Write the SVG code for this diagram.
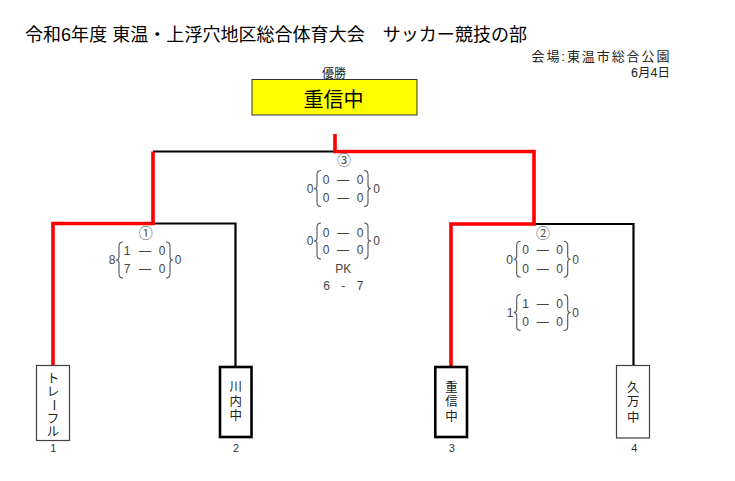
<svg xmlns="http://www.w3.org/2000/svg" xmlns:xlink="http://www.w3.org/1999/xlink" width="735" height="481" viewBox="0 0 735 481">
<style>
text{font-family:"Liberation Sans","Noto Sans CJK JP",sans-serif;}
.title{font-size:18px;fill:#000;}
.small{font-size:13px;fill:#222;}
.sc{font-size:12px;fill:#444;text-anchor:middle;}
.circ{font-family:"Noto Sans CJK JP",sans-serif;font-size:14px;fill:#555;text-anchor:middle;}
.tm{font-size:12.5px;fill:#222;text-anchor:middle;}
.num{font-size:11px;fill:#333;text-anchor:middle;}
.blk{fill:none;stroke:#000;stroke-width:2.2;}
.red{fill:none;stroke:#ff0000;stroke-width:3.6;}
.thin{fill:#fff;stroke:#404040;stroke-width:1.2;}
.thick{fill:#fff;stroke:#000;stroke-width:2.6;}
.brace{fill:none;stroke:#555;stroke-width:1.1;}
</style>
<defs>
<path id="lb" class="brace" d="M3,-18 Q-1,-18 -1,-14 L-1,-3 Q-1,0 -4,0 Q-1,0 -1,3 L-1,14 Q-1,18 3,18"/>
<path id="rb" class="brace" d="M-3,-18 Q1,-18 1,-14 L1,-3 Q1,0 4,0 Q1,0 1,3 L1,14 Q1,18 -3,18"/>
</defs>
<rect width="735" height="481" fill="#fff"/>

<g id="header">
<text class="title" x="25" y="41" textLength="502" lengthAdjust="spacing">令和6年度 東温・上浮穴地区総合体育大会　サッカー競技の部</text>
<text class="small" x="531.5" y="61" textLength="138" lengthAdjust="spacing">会場:東温市総合公園</text>
<text class="small" x="670" y="77" text-anchor="end" style="font-size:12.5px">6月4日</text>
</g>

<g id="connectors">
<path class="blk" d="M153,151.5 H335"/>
<path class="blk" d="M153,223.5 H235.5 V366"/>
<path class="blk" d="M534,224 H633.5 V365"/>
<path class="red" d="M335,134 V151.5 H534 V224 H451 V366"/>
<path class="red" d="M153,151.5 V223.5 H53 V365"/>
</g>

<g id="winner">
<text class="small" x="334" y="78" text-anchor="middle" style="font-size:12px">優勝</text>
<rect x="252" y="79.5" width="165" height="35.5" fill="#ffff00" stroke="#333" stroke-width="1"/>
<text x="333.5" y="106.5" text-anchor="middle" style="font-size:20px;fill:#000">重信中</text>
</g>

<g id="team1">
<rect class="thin" x="36.5" y="365.5" width="33" height="75"/>
<text class="tm" x="53" y="383">ト</text>
<text class="tm" x="53" y="396">レ</text>
<text class="tm" transform="rotate(90 53 405)" x="53" y="409.5">ー</text>
<text class="tm" x="53" y="422.5">フ</text>
<text class="tm" x="53" y="436">ル</text>
<text class="num" x="53.3" y="452">1</text>
</g>

<g id="team2">
<rect class="thick" x="220" y="367" width="31.5" height="70"/>
<text class="tm" x="235.7" y="391">川</text>
<text class="tm" x="235.7" y="406">内</text>
<text class="tm" x="235.7" y="420">中</text>
<text class="num" x="236" y="452">2</text>
</g>

<g id="team3">
<rect class="thick" x="435.3" y="367" width="31.7" height="70"/>
<text class="tm" x="451.5" y="392">重</text>
<text class="tm" x="451.5" y="406">信</text>
<text class="tm" x="451.5" y="420.5">中</text>
<text class="num" x="451.7" y="452">3</text>
</g>

<g id="team4">
<rect class="thin" x="616.5" y="365.5" width="33" height="72.5"/>
<text class="tm" x="633.3" y="391.5">久</text>
<text class="tm" x="633.3" y="406">万</text>
<text class="tm" x="633.3" y="421.5">中</text>
<text class="num" x="634.3" y="452">4</text>
</g>

<g id="match1">
<text class="circ" x="145.7" y="238">①</text>
<use xlink:href="#lb" x="120" y="260"/>
<use xlink:href="#rb" x="169" y="260"/>
<text class="sc" x="112" y="264.3">8</text>
<text class="sc" x="127" y="255">1</text><text class="sc" x="145" y="255">—</text><text class="sc" x="162" y="255">0</text>
<text class="sc" x="127" y="273.3">7</text><text class="sc" x="145" y="273.3">—</text><text class="sc" x="162" y="273.3">0</text>
<text class="sc" x="178" y="264.3">0</text>
</g>

<g id="match2">
<text class="circ" x="543" y="238">②</text>
<use xlink:href="#lb" x="517.7" y="259.3"/>
<use xlink:href="#rb" x="566.7" y="259.3"/>
<text class="sc" x="509.7" y="263.6">0</text>
<text class="sc" x="525.7" y="254.3">0</text><text class="sc" x="542.7" y="254.3">—</text><text class="sc" x="559.7" y="254.3">0</text>
<text class="sc" x="525.7" y="272.6">0</text><text class="sc" x="542.7" y="272.6">—</text><text class="sc" x="559.7" y="272.6">0</text>
<text class="sc" x="575.7" y="263.6">0</text>
<use xlink:href="#lb" x="517.7" y="312.5"/>
<use xlink:href="#rb" x="566.7" y="312.5"/>
<text class="sc" x="510" y="316.8">1</text>
<text class="sc" x="525.7" y="307.6">1</text><text class="sc" x="542.7" y="307.6">—</text><text class="sc" x="559.7" y="307.6">0</text>
<text class="sc" x="525.7" y="326">0</text><text class="sc" x="542.7" y="326">—</text><text class="sc" x="559.7" y="326">0</text>
<text class="sc" x="575.7" y="316.8">0</text>
</g>

<g id="match3">
<text class="circ" x="344" y="165">③</text>
<use xlink:href="#lb" x="318" y="188.5"/>
<use xlink:href="#rb" x="367" y="188.5"/>
<text class="sc" x="310" y="192.8">0</text>
<text class="sc" x="326" y="183.6">0</text><text class="sc" x="343" y="183.6">—</text><text class="sc" x="360" y="183.6">0</text>
<text class="sc" x="326" y="202">0</text><text class="sc" x="343" y="202">—</text><text class="sc" x="360" y="202">0</text>
<text class="sc" x="376.5" y="192.8">0</text>
<use xlink:href="#lb" x="318" y="241"/>
<use xlink:href="#rb" x="367" y="241"/>
<text class="sc" x="310" y="245.3">0</text>
<text class="sc" x="326" y="236.6">0</text><text class="sc" x="343" y="236.6">—</text><text class="sc" x="360" y="236.6">0</text>
<text class="sc" x="326" y="254.3">0</text><text class="sc" x="343" y="254.3">—</text><text class="sc" x="360" y="254.3">0</text>
<text class="sc" x="376.5" y="245.3">0</text>
<text class="sc" x="343.3" y="272.6">PK</text>
<text class="sc" x="326.7" y="290.3">6</text><text class="sc" x="343.3" y="290.3">-</text><text class="sc" x="360" y="290.3">7</text>
</g>
</svg>
